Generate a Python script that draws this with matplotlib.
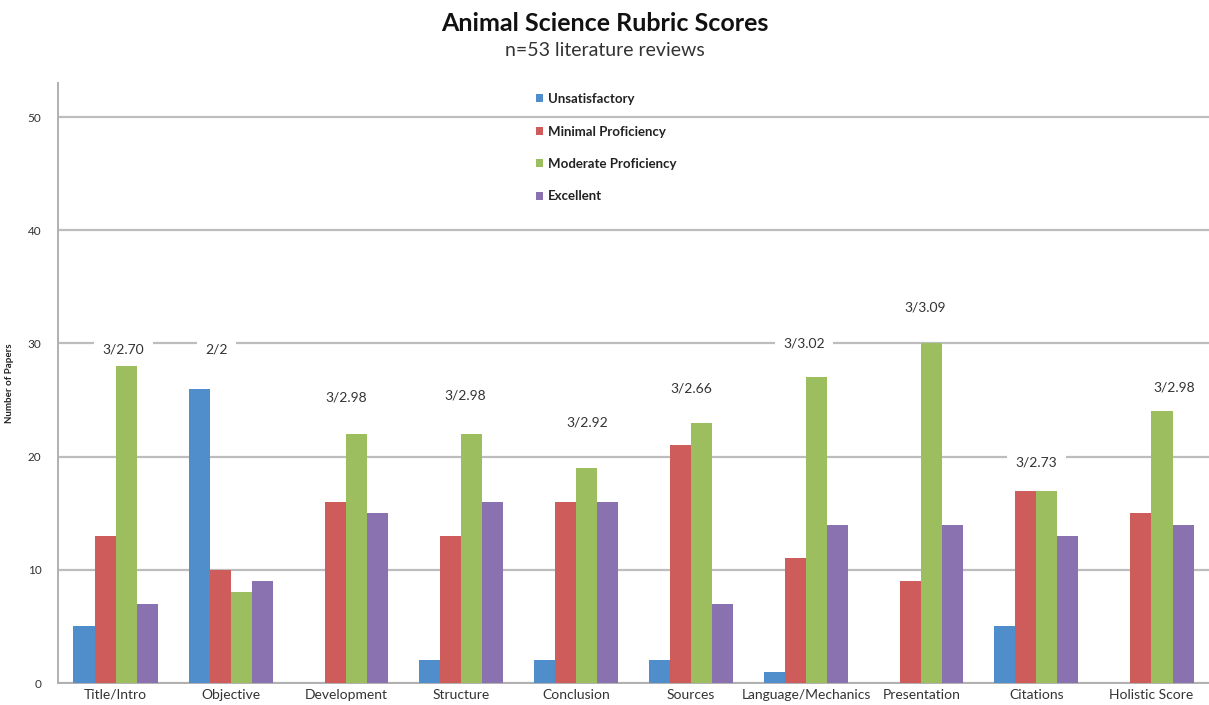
import matplotlib
matplotlib.use("Agg")
import matplotlib.pyplot as plt
import numpy as np

categories = ["Title/Intro", "Objective", "Development", "Structure", "Conclusion",
              "Sources", "Language/Mechanics", "Presentation", "Citations", "Holistic Score"]
series_names = ["Unsatisfactory", "Minimal Proficiency", "Moderate Proficiency", "Excellent"]
unsatisfactory = [5, 26, 0, 2, 2, 2, 1, 0, 5, 0]
minimal = [13, 10, 16, 13, 16, 21, 11, 9, 17, 15]
moderate = [28, 8, 22, 22, 19, 23, 27, 30, 17, 24]
excellent = [7, 9, 15, 16, 16, 7, 14, 14, 13, 14]
annotations = ["3/2.70", "2/2", "3/2.98", "3/2.98", "3/2.92", "3/2.66",
               "3/3.02", "3/3.09", "3/2.73", "3/2.98"]
annot_y = [29.5, 29.5, 25.2, 25.4, 23.0, 26.0, 30.0, 33.2, 19.5, 26.1]
annot_dx = [0.07, -0.12, 0.0, 0.04, 0.1, 0.0, -0.02, 0.03, 0.0, 0.2]

colors = ["#4F8DCB", "#CD5C5A", "#9DBE5E", "#8A72B0"]
font = ["Lato", "DejaVu Sans"]
plt.rcParams['font.family'] = font

fig = plt.figure(figsize=(12.09, 7.05), dpi=100)
ax = fig.add_axes([0.048, 0.0312, 0.952, 0.851])

x = np.arange(len(categories))
w = 0.183
data = [unsatisfactory, minimal, moderate, excellent]
for i, (vals, c, name) in enumerate(zip(data, colors, series_names)):
    ax.bar(x + (i - 1.5) * w, vals, width=w, color=c, label=name, zorder=3)

ax.set_xlim(-0.5, len(categories) - 0.5)
ax.set_ylim(0, 53)
ax.set_yticks([0, 10, 20, 30, 40, 50])
ax.yaxis.grid(True, color="#bdbdbd", linewidth=1.6, zorder=0)
ax.set_axisbelow(True)
for s in ["top", "right"]:
    ax.spines[s].set_visible(False)
ax.spines["left"].set_color("#b0b0b0")
ax.spines["bottom"].set_color("#b0b0b0")
ax.spines["left"].set_linewidth(1.4)
ax.spines["bottom"].set_linewidth(1.4)
ax.tick_params(axis="both", length=0, colors="#333333")
ax.tick_params(axis="y", labelsize=8.5, pad=12)
ax.tick_params(axis="x", labelsize=10, pad=4)
ax.set_xticks(x)
ax.set_xticklabels(categories)
ax.set_ylabel("Number of Papers", fontsize=7, fontweight="bold", color="#222222", labelpad=10)

for xi, lab, yy, dx in zip(x, annotations, annot_y, annot_dx):
    ax.text(xi + dx, yy, lab, ha="center", va="center", fontsize=10, color="#333333",
            bbox=dict(facecolor="white", edgecolor="none", pad=6), zorder=4)

leg = ax.legend(loc="upper left", bbox_to_anchor=(0.405, 1.003), frameon=False,
                prop={"size": 9.5, "weight": "bold"}, handlelength=0.55, handleheight=0.55,
                handletextpad=0.35, labelspacing=1.55)
for t in leg.get_texts():
    t.set_color("#222222")

fig.text(0.5, 0.967, "Animal Science Rubric Scores", ha="center", va="center",
         fontsize=18, fontweight="bold", color="#111111")
fig.text(0.5, 0.929, "n=53 literature reviews", ha="center", va="center",
         fontsize=14, color="#333333")

fig.savefig("out.png", dpi=100)
